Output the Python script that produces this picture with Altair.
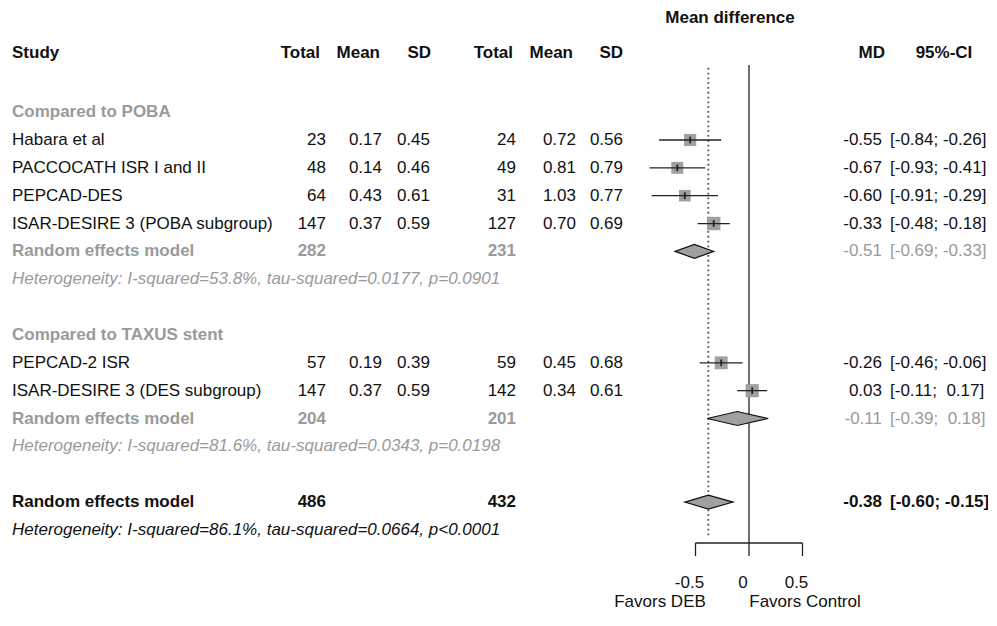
import altair as alt
import pandas as pd

# ------------------------------------------------------------------ data
study = ["Habara et al", "PACCOCATH ISR I and II", "PEPCAD-DES",
         "ISAR-DESIRE 3 (POBA subgroup)", "PEPCAD-2 ISR",
         "ISAR-DESIRE 3 (DES subgroup)"]
n_deb = [23, 48, 64, 147, 57, 147]
mean_deb = [0.17, 0.14, 0.43, 0.37, 0.19, 0.37]
sd_deb = [0.45, 0.46, 0.61, 0.59, 0.39, 0.59]
n_ctl = [24, 49, 31, 127, 59, 142]
mean_ctl = [0.72, 0.81, 1.03, 0.70, 0.45, 0.34]
sd_ctl = [0.56, 0.79, 0.77, 0.69, 0.68, 0.61]
md = [-0.55, -0.67, -0.60, -0.33, -0.26, 0.03]
ci_lo = [-0.84, -0.93, -0.91, -0.48, -0.46, -0.11]
ci_hi = [-0.26, -0.41, -0.29, -0.18, -0.06, 0.17]
weight = [16.0, 15.5, 14.5, 19.5, 18.0, 18.5]   # relative study weights (estimated)

group_title = ["Compared to POBA", "Compared to TAXUS stent"]
sum_label = ["Random effects model", "Random effects model", "Random effects model"]
sum_n_deb = [282, 204, 486]
sum_n_ctl = [231, 201, 432]
sum_md = [-0.51, -0.11, -0.38]
sum_lo = [-0.69, -0.39, -0.60]
sum_hi = [-0.33, 0.18, -0.15]
het = ["Heterogeneity: I-squared=53.8%, tau-squared=0.0177, p=0.0901",
       "Heterogeneity: I-squared=81.6%, tau-squared=0.0343, p=0.0198",
       "Heterogeneity: I-squared=86.1%, tau-squared=0.0664, p<0.0001"]

headers = ["Study", "Total", "Mean", "SD", "Total", "Mean", "SD", "MD", "95%-CI"]
axis_ticks = [-0.5, 0, 0.5]
tick_labels = ["-0.5", "0", "0.5"]
plot_title = "Mean difference"
favors = ["Favors DEB", "Favors Control"]

# ------------------------------------------------------------------ layout
FONT = "Liberation Sans"
FS = 17
BLACK = "#111111"
GRAY = "#9a9a9a"
FILL = "#a0a0a0"

W, H = 980, 604
ZERO_PX = 741.0      # plot-x of MD = 0
PX_PER_UNIT = 107.0
ROW3_PX = 132.0      # plot-y of row 3
ROW_PX = 27.85
X_DOMAIN = [-ZERO_PX / PX_PER_UNIT, (W - ZERO_PX) / PX_PER_UNIT]
Y_DOMAIN = [3 - ROW3_PX / ROW_PX, 3 + (H - ROW3_PX) / ROW_PX]
xs = alt.Scale(domain=X_DOMAIN, nice=False, zero=False)
ys = alt.Scale(domain=Y_DOMAIN, nice=False, zero=False, reverse=True)

study_rows = [3, 4, 5, 6, 11, 12]
group_rows = [2, 10]
sum_rows = [7, 13, 16]
het_rows = [8, 14, 17]
HEADER_ROW = -0.12
TITLE_ROW = -1.38
AXIS_ROW = 17.47
TICK_END = 17.94
TICKLAB_ROW = 18.91
FAVORS_ROW = 19.58
REF_TOP = 0.31
DOT_TOP, DOT_BOT = 0.41, 17.25
DIAM_H = 0.25

# column positions (plot px)
X_STUDY = 4
X_HEAD = [312, 372, 423, 505, 565, 615]
X_NUM = [318, 374, 422, 508, 568, 615]
X_MD = 874
X_MD_HEAD = 877
X_CI = 882
X_CI_HEAD = 936
X_TITLE = 722
X_FAV = [652, 797]


def fmt_ci(lo, hi):
    def f(v):
        s = f"{v:.2f}"
        return s if v < 0 else "\u00a0" + s
    return f"[{f(lo)}; {f(hi)}]"


sdf = pd.DataFrame({
    "k": study_rows, "study": study,
    "c0": [str(v) for v in n_deb], "c1": [f"{v:.2f}" for v in mean_deb],
    "c2": [f"{v:.2f}" for v in sd_deb], "c3": [str(v) for v in n_ctl],
    "c4": [f"{v:.2f}" for v in mean_ctl], "c5": [f"{v:.2f}" for v in sd_ctl],
    "md": md, "lo": ci_lo, "hi": ci_hi, "w": weight,
    "md_txt": [f"{v:.2f}" for v in md],
    "ci_txt": [fmt_ci(a, b) for a, b in zip(ci_lo, ci_hi)],
})
sdf["k1"] = sdf["k"] - 0.12
sdf["k2"] = sdf["k"] + 0.12

sumdf = pd.DataFrame({
    "k": sum_rows, "label": sum_label,
    "c0": [str(v) for v in sum_n_deb], "c3": [str(v) for v in sum_n_ctl],
    "md_txt": [f"{v:.2f}" for v in sum_md],
    "ci_txt": [fmt_ci(a, b) for a, b in zip(sum_lo, sum_hi)],
})
sub_sum = sumdf.iloc[:2]
all_sum = sumdf.iloc[2:]

hetdf = pd.DataFrame({"k": het_rows, "txt": het})
grpdf = pd.DataFrame({"k": group_rows, "txt": group_title})

diam = []
for i, (m, a, b, k) in enumerate(zip(sum_md, sum_lo, sum_hi, sum_rows)):
    diam += [{"g": i, "x": a, "y": k, "y2": k},
             {"g": i, "x": m, "y": k - DIAM_H, "y2": k + DIAM_H},
             {"g": i, "x": b, "y": k, "y2": k}]
diamdf = pd.DataFrame(diam)


def text_layer(df, field, xpx, align="right", weight="normal", style="normal",
               color=BLACK, dx=0, use_scale_x=None):
    enc = dict(y=alt.Y("k:Q", scale=ys, axis=None), text=alt.Text(f"{field}:N"))
    if use_scale_x is None:
        enc["x"] = alt.value(xpx)
    else:
        enc["x"] = alt.X(f"{use_scale_x}:Q", scale=xs, axis=None)
    return alt.Chart(df).mark_text(
        align=align, baseline="middle", font=FONT, fontSize=FS,
        fontWeight=weight, fontStyle=style, color=color, dx=dx).encode(**enc)


layers = []

# header
hdf = pd.DataFrame({"k": [HEADER_ROW], **{f"h{i}": [h] for i, h in enumerate(headers)}})
layers.append(text_layer(hdf, "h0", X_STUDY, align="left", weight="bold"))
for i in range(6):
    layers.append(text_layer(hdf, f"h{i+1}", X_HEAD[i], weight="bold"))
layers.append(text_layer(hdf, "h7", X_MD_HEAD, weight="bold"))
layers.append(text_layer(hdf, "h8", X_CI_HEAD, align="center", weight="bold"))
tdf = pd.DataFrame({"k": [TITLE_ROW], "t": [plot_title]})
layers.append(text_layer(tdf, "t", X_TITLE, align="center", weight="bold"))

# group titles
layers.append(text_layer(grpdf, "txt", X_STUDY, align="left", weight="bold", color=GRAY))

# study rows
layers.append(text_layer(sdf, "study", X_STUDY, align="left"))
for i in range(6):
    layers.append(text_layer(sdf, f"c{i}", X_NUM[i]))
layers.append(text_layer(sdf, "md_txt", X_MD))
layers.append(text_layer(sdf, "ci_txt", X_CI, align="left"))

# subgroup summaries
layers.append(text_layer(sub_sum, "label", X_STUDY, align="left", weight="bold", color=GRAY))
layers.append(text_layer(sub_sum, "c0", X_NUM[0], weight="bold", color=GRAY))
layers.append(text_layer(sub_sum, "c3", X_NUM[3], weight="bold", color=GRAY))
layers.append(text_layer(sub_sum, "md_txt", X_MD, color=GRAY))
layers.append(text_layer(sub_sum, "ci_txt", X_CI, align="left", color=GRAY))

# overall summary
layers.append(text_layer(all_sum, "label", X_STUDY, align="left", weight="bold"))
layers.append(text_layer(all_sum, "c0", X_NUM[0], weight="bold"))
layers.append(text_layer(all_sum, "c3", X_NUM[3], weight="bold"))
layers.append(text_layer(all_sum, "md_txt", X_MD, weight="bold"))
layers.append(text_layer(all_sum, "ci_txt", X_CI, align="left", weight="bold"))

# heterogeneity
layers.append(text_layer(hetdf.iloc[:2], "txt", X_STUDY, align="left", style="italic", color=GRAY))
layers.append(text_layer(hetdf.iloc[2:], "txt", X_STUDY, align="left", style="italic"))

# ---- forest graphics
dotdf = pd.DataFrame({"x": [sum_md[2]], "k1": [DOT_TOP], "k2": [DOT_BOT]})
layers.append(alt.Chart(dotdf).mark_rule(color="#555555", strokeWidth=1.8, strokeDash=[1.8, 3.0]).encode(
    x=alt.X("x:Q", scale=xs, axis=None), y=alt.Y("k1:Q", scale=ys, axis=None), y2="k2:Q"))

refdf = pd.DataFrame({"x": [0.0], "k1": [REF_TOP], "k2": [AXIS_ROW]})
layers.append(alt.Chart(refdf).mark_rule(color="#222222", strokeWidth=1.3).encode(
    x=alt.X("x:Q", scale=xs, axis=None), y=alt.Y("k1:Q", scale=ys, axis=None), y2="k2:Q"))

layers.append(alt.Chart(sdf).mark_square(filled=True, color=FILL, opacity=1).encode(
    x=alt.X("md:Q", scale=xs, axis=None), y=alt.Y("k:Q", scale=ys, axis=None),
    size=alt.Size("w:Q", scale=alt.Scale(domain=[0, 20], range=[0, 185]), legend=None)))
layers.append(alt.Chart(sdf).mark_rule(color="#222222", strokeWidth=1.3).encode(
    x=alt.X("lo:Q", scale=xs, axis=None), x2="hi:Q", y=alt.Y("k:Q", scale=ys, axis=None)))
layers.append(alt.Chart(sdf).mark_rule(color="#222222", strokeWidth=1.8).encode(
    x=alt.X("md:Q", scale=xs, axis=None), y=alt.Y("k1:Q", scale=ys, axis=None), y2="k2:Q"))

layers.append(alt.Chart(diamdf).mark_area(orient="vertical", fill=FILL, stroke="#111111",
                                          strokeWidth=1.2, opacity=1).encode(
    x=alt.X("x:Q", scale=xs, axis=None), y=alt.Y("y:Q", scale=ys, axis=None), y2="y2:Q",
    detail="g:N"))

# axis
axdf = pd.DataFrame({"x": [min(axis_ticks)], "x2": [max(axis_ticks)], "k": [AXIS_ROW]})
layers.append(alt.Chart(axdf).mark_rule(color="#222222", strokeWidth=1.3).encode(
    x=alt.X("x:Q", scale=xs, axis=None), x2="x2:Q", y=alt.Y("k:Q", scale=ys, axis=None)))
tkdf = pd.DataFrame({"x": axis_ticks, "k1": [AXIS_ROW] * 3, "k2": [TICK_END] * 3,
                     "k": [TICKLAB_ROW] * 3, "lab": tick_labels})
layers.append(alt.Chart(tkdf).mark_rule(color="#222222", strokeWidth=1.3).encode(
    x=alt.X("x:Q", scale=xs, axis=None), y=alt.Y("k1:Q", scale=ys, axis=None), y2="k2:Q"))
layers.append(text_layer(tkdf, "lab", 0, align="center", dx=-6, use_scale_x="x"))

fdf = pd.DataFrame({"k": [FAVORS_ROW], "a": [favors[0]], "b": [favors[1]]})
layers.append(text_layer(fdf, "a", X_FAV[0], align="center"))
layers.append(text_layer(fdf, "b", X_FAV[1], align="center"))

chart = alt.layer(*layers).properties(
    width=W, height=H, padding=0,
    autosize=alt.AutoSizeParams(type="none"),
    background="white",
).configure_view(stroke=None)

chart.save("out.html", embed_options={"renderer": "svg", "actions": False})
